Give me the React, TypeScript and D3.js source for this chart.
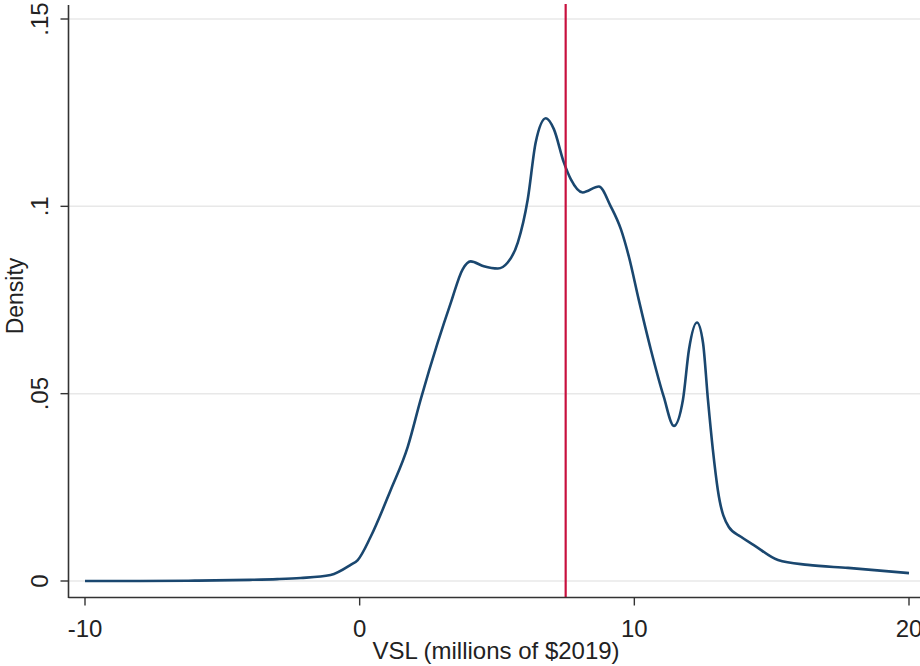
import React from "react";
import * as d3 from "d3";

const vslValues = [-10, -8, -6, -4, -3, -2.15, -1.06, -0.33, -0.07, 0.4, 1.13, 1.75, 2.22, 2.84, 3.32, 3.75, 4.04, 4.52, 5.03, 5.39, 5.76, 6.12, 6.41, 6.78, 7.07, 7.43, 7.69, 8.12, 8.71, 9.14, 9.51, 9.8, 10.16, 10.6, 11.07, 11.44, 11.77, 11.99, 12.28, 12.5, 12.68, 12.86, 13.04, 13.44, 13.88, 14.35, 15.23, 16.32, 17.78, 20.0];
const densityValues = [0.0, 0.00002, 0.0001, 0.0003, 0.0005, 0.0008, 0.0016, 0.0043, 0.0056, 0.0118, 0.0243, 0.0358, 0.0484, 0.0636, 0.0743, 0.0832, 0.0853, 0.084, 0.0834, 0.085, 0.0904, 0.1019, 0.1171, 0.1235, 0.1206, 0.1118, 0.1072, 0.1037, 0.1053, 0.1, 0.0939, 0.0866, 0.0751, 0.0618, 0.0492, 0.0414, 0.0484, 0.0618, 0.069, 0.0636, 0.0484, 0.035, 0.0243, 0.0144, 0.0118, 0.0096, 0.0056, 0.0043, 0.0035, 0.0021];
const xTicks = [-10, 0, 10, 20];
const xTickLabels = ["-10", "0", "10", "20"];
const yTicks = [0, 0.05, 0.1, 0.15];
const yTickLabels = ["0", ".05", ".1", ".15"];
const referenceLine = 7.5;
const xTitle = "VSL (millions of $2019)";
const yTitle = "Density";

export default function App() {
  const W = 920;
  const H = 666;
  const axisX = 68.5;
  const axisY = 597.5;
  const x = d3.scaleLinear().domain([-10, 20]).range([85, 909]);
  const y = d3.scaleLinear().domain([0, 0.15]).range([581, 19]);
  const pts: [number, number][] = vslValues.map((v, i) => [v, densityValues[i]]);
  const line = d3
    .line<[number, number]>()
    .x((d) => x(d[0]))
    .y((d) => y(d[1]))
    .curve(d3.curveMonotoneX);
  const font = "'Liberation Sans', Arial, sans-serif";
  return (
    <svg
      width={W}
      height={H}
      style={{ position: "absolute", left: 0, top: 0, background: "#fff" }}
      fontFamily={font}
    >
      <rect x={0} y={0} width={W} height={H} fill="#fff" />
      {yTicks.map((t) => (
        <line key={"g" + t} x1={axisX} x2={W} y1={y(t)} y2={y(t)} stroke="#e8e8e8" strokeWidth={1.5} />
      ))}
      <path d={line(pts) || ""} fill="none" stroke="#1a476f" strokeWidth={2.6} strokeLinejoin="round" />
      <line x1={x(referenceLine)} x2={x(referenceLine)} y1={4} y2={axisY} stroke="#c8103e" strokeWidth={2.2} />
      <line x1={axisX} x2={axisX} y1={5} y2={axisY + 0.5} stroke="#333" strokeWidth={1.6} />
      <line x1={axisX} x2={W} y1={axisY} y2={axisY} stroke="#333" strokeWidth={1.6} />
      {yTicks.map((t, i) => (
        <g key={"y" + t}>
          <line x1={axisX - 8} x2={axisX} y1={y(t)} y2={y(t)} stroke="#333" strokeWidth={1.4} />
          <text
            transform={`translate(48,${y(t)}) rotate(-90)`}
            textAnchor="middle"
            fontSize={24}
            fill="#222"
          >
            {yTickLabels[i]}
          </text>
        </g>
      ))}
      {xTicks.map((t, i) => (
        <g key={"x" + t}>
          <line x1={x(t)} x2={x(t)} y1={axisY} y2={axisY + 8} stroke="#333" strokeWidth={1.4} />
          <text x={x(t)} y={637} textAnchor="middle" fontSize={24} fill="#222">
            {xTickLabels[i]}
          </text>
        </g>
      ))}
      <text x={496} y={659} textAnchor="middle" fontSize={24} fill="#222">
        {xTitle}
      </text>
      <text transform={`translate(23,296) rotate(-90)`} textAnchor="middle" fontSize={23} fill="#222">
        {yTitle}
      </text>
    </svg>
  );
}
